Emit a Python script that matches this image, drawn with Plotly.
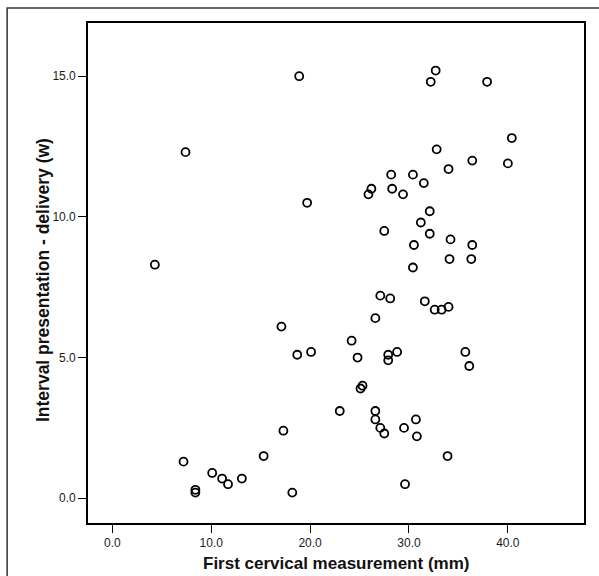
import plotly.graph_objects as go

cervical_mm = [
    18.9, 32.2, 32.7, 37.9, 40.4, 32.8, 36.4, 40.0, 34.0, 30.4,
    28.2, 31.5, 29.4, 26.2, 25.9, 28.3, 19.7, 32.1, 31.2, 32.1,
    27.5, 30.5, 34.2, 36.4, 34.1, 36.3, 30.4, 7.4, 4.3, 27.1,
    28.1, 26.6, 17.1, 24.2, 18.7, 20.1, 24.8, 27.9, 27.9, 28.8,
    25.3, 25.1, 31.6, 32.6, 33.3, 34.0, 35.7, 36.1, 17.3, 15.3,
    7.2, 10.1, 11.1, 11.7, 13.1, 8.4, 8.4, 18.2, 23.0, 26.6,
    26.6, 27.1, 27.5, 30.7, 29.5, 30.8, 33.9, 29.6,
]
interval_w = [
    15.0, 14.8, 15.2, 14.8, 12.8, 12.4, 12.0, 11.9, 11.7, 11.5,
    11.5, 11.2, 10.8, 11.0, 10.8, 11.0, 10.5, 10.2, 9.8, 9.4,
    9.5, 9.0, 9.2, 9.0, 8.5, 8.5, 8.2, 12.3, 8.3, 7.2,
    7.1, 6.4, 6.1, 5.6, 5.1, 5.2, 5.0, 5.1, 4.9, 5.2,
    4.0, 3.9, 7.0, 6.7, 6.7, 6.8, 5.2, 4.7, 2.4, 1.5,
    1.3, 0.9, 0.7, 0.5, 0.7, 0.3, 0.2, 0.2, 3.1, 3.1,
    2.8, 2.5, 2.3, 2.8, 2.5, 2.2, 1.5, 0.5,
]
x_ticks = [0, 10, 20, 30, 40]
x_tick_labels = ["0.0", "10.0", "20.0", "30.0", "40.0"]
y_ticks = [0, 5, 10, 15]
y_tick_labels = ["0.0", "5.0", "10.0", "15.0"]
x_title = "First cervical measurement (mm)"
y_title = "Interval presentation - delivery (w)"

fig = go.Figure(
    go.Scatter(
        x=cervical_mm,
        y=interval_w,
        mode="markers",
        marker=dict(symbol="circle-open", size=8, color="black",
                    line=dict(width=1.8, color="black")),
        showlegend=False,
    )
)

axis_common = dict(
    showgrid=False, zeroline=False, showline=True, mirror=True,
    linecolor="black", linewidth=1.6, ticks="outside", ticklen=8,
    tickwidth=1.4, tickcolor="black", automargin=False,
    tickfont=dict(family="Liberation Sans, Arial", size=12, color="#1a1a1a"),
)

fig.update_xaxes(range=[-2.46, 47.7], tickvals=x_ticks, ticktext=x_tick_labels,
                 **axis_common)
fig.update_yaxes(range=[-0.88, 16.89], tickvals=y_ticks, ticktext=y_tick_labels,
                 **axis_common)

title_font = dict(family="Liberation Sans, Arial", color="#111")
fig.update_layout(
    width=599, height=576,
    margin=dict(l=88, r=15, t=23, b=53),
    paper_bgcolor="white", plot_bgcolor="white",
    shapes=[
        dict(type="rect", xref="paper", yref="paper",
             x0=-0.163, x1=1.05, y0=-0.15, y1=1.03,
             line=dict(color="#333", width=1.5), layer="below"),
    ],
    annotations=[
        dict(text=f"<b>{x_title}</b>", xref="paper", yref="paper",
             x=0.5, y=-0.08, xanchor="center", yanchor="middle",
             showarrow=False, font=dict(size=17, **title_font)),
        dict(text=f"<b>{y_title}</b>", xref="paper", yref="paper",
             x=-0.0907, y=0.486, xanchor="center", yanchor="middle",
             textangle=-90, showarrow=False, font=dict(size=17.5, **title_font)),
    ],
)

fig.write_html("out.html", config={"displayModeBar": False},
               post_script="document.body.style.margin='0';")
